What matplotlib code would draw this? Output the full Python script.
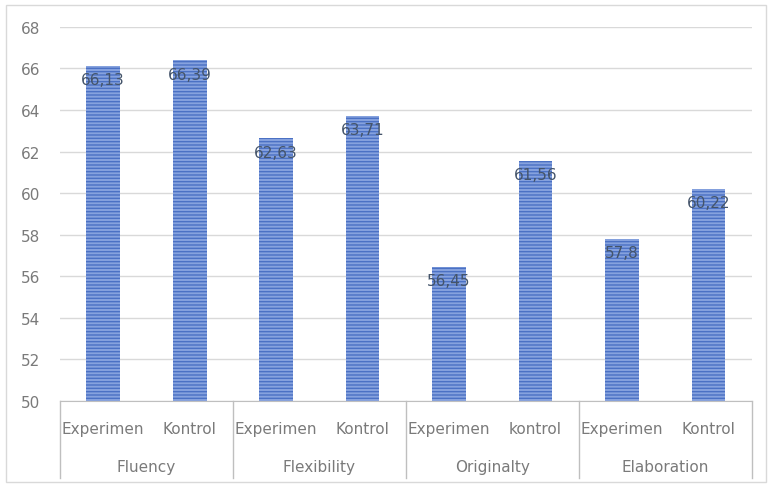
import numpy as np
import matplotlib
matplotlib.use("Agg")
import matplotlib.pyplot as plt
from matplotlib.transforms import blended_transform_factory
from matplotlib.patches import Rectangle

groups = ["Fluency", "Flexibility", "Originalty", "Elaboration"]
sub_labels = ["Experimen", "Kontrol", "Experimen", "Kontrol",
              "Experimen", "kontrol", "Experimen", "Kontrol"]
values = [66.13, 66.39, 62.63, 63.71, 56.45, 61.56, 57.8, 60.22]
value_labels = ["66,13", "66,39", "62,63", "63,71", "56,45", "61,56", "57,8", "60,22"]

plt.rcParams['font.family'] = ['DejaVu Sans']

fig = plt.figure(figsize=(7.72, 4.89), dpi=100)
ax = fig.add_axes([0.0777, 0.178, 0.896, 0.765])

x = np.arange(len(values))
ax.bar(x, values, width=0.39, color="#86a2de", linewidth=0, zorder=2)
ax.bar(x, values, width=0.39, color="none", edgecolor="#4b71c4", hatch="-----",
       linewidth=0, zorder=3)

for xi, v, lab in zip(x, values, value_labels):
    ax.text(xi, v - 0.3, lab, ha="center", va="top", fontsize=11,
            color="#44546a", zorder=4)

ax.set_ylim(50, 68)
ax.set_xlim(-0.5, len(values) - 0.5)
ax.set_yticks(np.arange(50, 69, 2))
ax.yaxis.grid(True, color="#d9d9d9", linewidth=1)
ax.set_axisbelow(True)
ax.tick_params(axis="y", length=0, labelsize=11, labelcolor="#7a7a7a", pad=14)
ax.set_xticks([])
for s in ["top", "right", "left"]:
    ax.spines[s].set_visible(False)
ax.spines["bottom"].set_color("#bfbfbf")

trans = blended_transform_factory(ax.transData, ax.transAxes)
for xi, lab in zip(x, sub_labels):
    ax.text(xi, -0.073, lab, transform=trans, ha="center", va="center",
            fontsize=11, color="#7a7a7a")
for gi, g in enumerate(groups):
    ax.text(2 * gi + 0.5, -0.175, g, transform=trans, ha="center", va="center",
            fontsize=11, color="#7a7a7a")
for b in np.arange(-0.5, len(values), 2):
    ax.plot([b, b], [0, -0.205], transform=trans, color="#bfbfbf", linewidth=1,
            clip_on=False)

fig.patches.append(Rectangle((0.008, 0.012), 0.984, 0.975, transform=fig.transFigure,
                             fill=False, edgecolor="#d9d9d9", linewidth=1))

fig.savefig("out.png", dpi=100)
